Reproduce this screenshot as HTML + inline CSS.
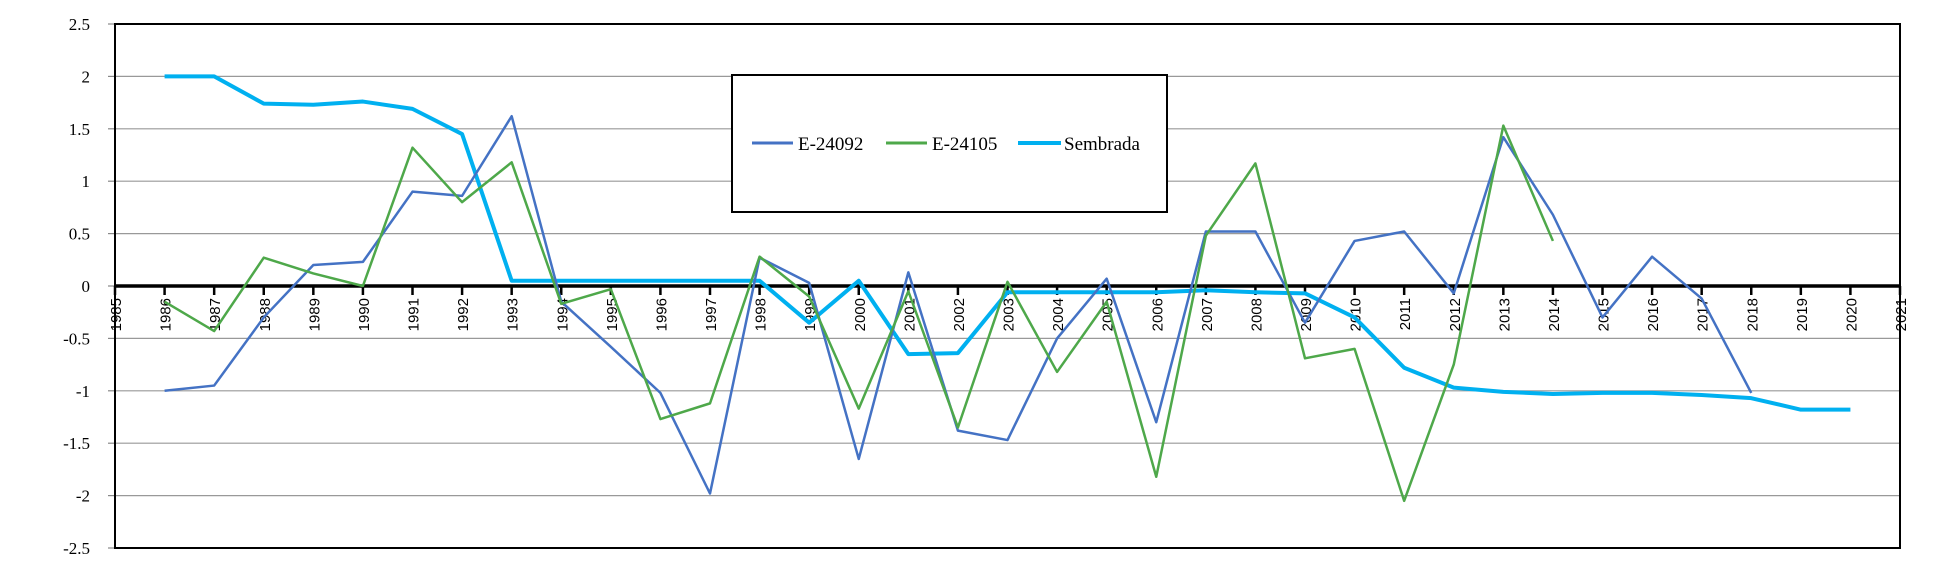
<!DOCTYPE html>
<html><head><meta charset="utf-8"><style>
html,body{margin:0;padding:0;background:#fff;}
svg{display:block;}
</style></head><body>
<svg id="c" width="1953" height="580" xmlns="http://www.w3.org/2000/svg">
<rect width="1953" height="580" fill="#fff"/>
<g id="grid"></g>
<g id="series"></g>
<rect x="732" y="75" width="435" height="137" fill="#fff" stroke="#000" stroke-width="2"/>
<line x1="752" y1="143" x2="793" y2="143" stroke="#4472C4" stroke-width="3"/>
<text x="798" y="150" font-family="Liberation Serif, serif" font-size="19">E-24092</text>
<line x1="886" y1="143" x2="927" y2="143" stroke="#4EA84A" stroke-width="3"/>
<text x="932" y="150" font-family="Liberation Serif, serif" font-size="19">E-24105</text>
<line x1="1018" y1="143" x2="1061" y2="143" stroke="#00B0F0" stroke-width="4"/>
<text x="1064" y="150" font-family="Liberation Serif, serif" font-size="19">Sembrada</text>
</svg>
<script>
var L=115,R=1900,T=24,B=548;
function X(y){return L+(y-1985)*(R-L)/36;}
function Y(v){return T+(2.5-v)*(B-T)/5;}
var g=document.getElementById('grid'),s=document.getElementById('series'),h='';
var ys=[2.5,2,1.5,1,0.5,0,-0.5,-1,-1.5,-2,-2.5];
ys.forEach(function(v){
 var y=Y(v);
 if(v!==0&&v!==2.5&&v!==-2.5) h+='<line x1="'+L+'" y1="'+y+'" x2="'+R+'" y2="'+y+'" stroke="#999" stroke-width="1.2"/>';
 h+='<line x1="'+(L-7)+'" y1="'+y+'" x2="'+L+'" y2="'+y+'" stroke="#888" stroke-width="1.2"/>';
 h+='<text x="90" y="'+(y+6)+'" text-anchor="end" font-family="Liberation Serif, serif" font-size="17">'+v+'</text>';
});
h+='<rect x="'+L+'" y="'+T+'" width="'+(R-L)+'" height="'+(B-T)+'" fill="none" stroke="#000" stroke-width="2"/>';
h+='<line x1="'+L+'" y1="'+Y(0)+'" x2="'+R+'" y2="'+Y(0)+'" stroke="#000" stroke-width="3.5"/>';
for(var yr=1985;yr<=2021;yr++){
 var x=X(yr);
 h+='<line x1="'+x+'" y1="'+Y(0)+'" x2="'+x+'" y2="'+(Y(0)+9)+'" stroke="#000" stroke-width="2.5"/>';
 h+='<text transform="translate('+(x+6)+','+(Y(0)+12)+') rotate(-90)" text-anchor="end" font-family="Liberation Sans, sans-serif" font-size="15">'+yr+'</text>';
}
g.innerHTML=h;
var a=[-1.0,-0.95,-0.3,0.2,0.23,0.9,0.86,1.62,-0.15,-0.58,-1.02,-1.98,0.27,0.03,-1.65,0.13,-1.38,-1.47,-0.5,0.07,-1.3,0.52,0.52,-0.35,0.43,0.52,-0.07,1.42,0.68,-0.3,0.28,-0.12,-1.02];
var b=[-0.15,-0.43,0.27,0.12,0.0,1.32,0.8,1.18,-0.17,-0.03,-1.27,-1.12,0.28,-0.1,-1.17,-0.05,-1.35,0.04,-0.82,-0.15,-1.82,0.48,1.17,-0.69,-0.6,-2.05,-0.75,1.53,0.43];
var c=[2,2,1.74,1.73,1.76,1.69,1.45,0.05,0.05,0.05,0.05,0.05,0.05,-0.35,0.05,-0.65,-0.64,-0.06,-0.06,-0.06,-0.06,-0.04,-0.06,-0.07,-0.3,-0.78,-0.97,-1.01,-1.03,-1.02,-1.02,-1.04,-1.07,-1.18,-1.18];
function pl(d,col,w){return '<polyline fill="none" stroke="'+col+'" stroke-width="'+w+'" stroke-linejoin="round" points="'+d.map(function(v,i){return X(1986+i)+','+Y(v);}).join(' ')+'"/>';}
s.innerHTML=pl(c,'#00B0F0',4)+pl(a,'#4472C4',2.5)+pl(b,'#4EA84A',2.5);
</script>
</body></html>
